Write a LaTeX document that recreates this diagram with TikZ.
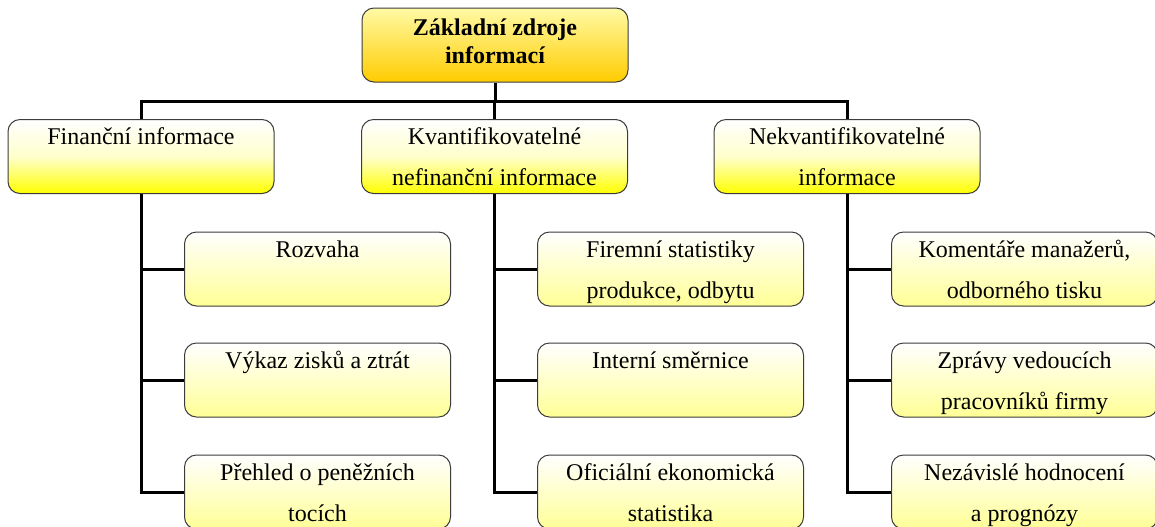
\documentclass[tikz,border=0pt]{standalone}
\usepackage{fontspec}
\setmainfont{Liberation Serif}
\newfontfamily\cardfont{Liberation Serif}

\definecolor{bordergray}{RGB}{60,60,60}
\definecolor{goldtop}{RGB}{255,250,165}
\definecolor{goldbottom}{RGB}{255,204,0}
\definecolor{leafbottom}{RGB}{255,255,150}

% text block at the top of a box
\newcommand{\boxtext}[1]{\parbox[t][37pt][t]{132pt}{\centering\cardfont\fontsize{12}{20.5}\selectfont\rule{0pt}{12.5pt}#1}}
\newcommand{\roottext}[1]{\parbox[t][37pt][t]{132pt}{\centering\cardfont\bfseries\fontsize{12}{14}\selectfont\rule{0pt}{13.5pt}#1}}

\tikzset{
  card/.style={draw=bordergray, line width=0.5pt, rounded corners=6pt, inner sep=0pt,
    minimum width=133pt, minimum height=37pt},
  rootbox/.style={card, top color=goldtop, bottom color=goldbottom},
  groupbox/.style={card, top color=white, bottom color=yellow, middle color=yellow!20},
  leafbox/.style={card, top color=white, bottom color=leafbottom},
  link/.style={line width=1.5pt, black}
}

\begin{document}
\begin{tikzpicture}[x=0.5pt, y=-0.5pt]
    \path[fill=white, use as bounding box] (0,0) rectangle (1155,526);

    % root
    \node[rootbox] (root) at (495,45) {\roottext{Základní zdroje\\informací}};

    % groups
    \node[groupbox] (fin)   at (141,156.5)   {\boxtext{Finanční informace}};
    \node[groupbox] (kvant) at (494.5,156.5) {\boxtext{Kvantifikovatelné\\nefinanční informace}};
    \node[groupbox] (nekv)  at (847,156.5)   {\boxtext{Nekvantifikovatelné\\informace}};

    % leaves
    \node[leafbox] (rozvaha) at (317.5,269) {\boxtext{Rozvaha}};
    \node[leafbox] (vykaz)   at (317.5,380) {\boxtext{Výkaz zisků a ztrát}};
    \node[leafbox] (prehled) at (317.5,492) {\boxtext{Přehled o peněžních\\tocích}};

    \node[leafbox] (firemni)  at (670.5,269) {\boxtext{Firemní statistiky\\produkce, odbytu}};
    \node[leafbox] (interni)  at (670.5,380) {\boxtext{Interní směrnice}};
    \node[leafbox] (oficialni) at (670.5,492) {\boxtext{Oficiální ekonomická\\statistika}};

    \node[leafbox] (komentare) at (1024.5,269) {\boxtext{Komentáře manažerů,\\odborného tisku}};
    \node[leafbox] (zpravy)    at (1024.5,380) {\boxtext{Zprávy vedoucích\\pracovníků firmy}};
    \node[leafbox] (nezavisle) at (1024.5,492) {\boxtext{Nezávislé hodnocení\\a prognózy}};

    % connectors
    \coordinate (bus) at (495,101);
    \draw[link] (root.south) -- (root.south |- bus);
    \draw[link] (fin.north) |- (bus) -| (nekv.north);
    \draw[link] (kvant.north) -- (kvant.north |- bus);

    \foreach \leaf in {rozvaha,vykaz,prehled}
        \draw[link] (fin.south) |- (\leaf.west);
    \foreach \leaf in {firemni,interni,oficialni}
        \draw[link] (kvant.south) |- (\leaf.west);
    \foreach \leaf in {komentare,zpravy,nezavisle}
        \draw[link] (nekv.south) |- (\leaf.west);

\end{tikzpicture}
\end{document}
